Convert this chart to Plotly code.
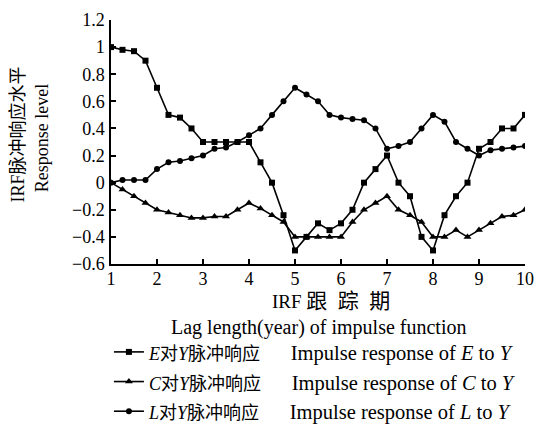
import plotly.graph_objects as go

# Lag periods (quarter steps from 1 to 10)
lag = [1 + 0.25 * i for i in range(37)]

e_resp = [1.0, 0.98, 0.97, 0.90, 0.70, 0.50, 0.48, 0.40, 0.30, 0.30, 0.30, 0.30, 0.30,
          0.15, 0.0, -0.24, -0.50, -0.40, -0.30, -0.35, -0.30, -0.20, 0.0, 0.10, 0.20,
          0.0, -0.10, -0.40, -0.50, -0.24, -0.10, 0.0, 0.25, 0.30, 0.40, 0.40, 0.50]
c_resp = [0.0, -0.05, -0.10, -0.15, -0.20, -0.22, -0.24, -0.26, -0.26, -0.25, -0.25, -0.20, -0.15,
          -0.19, -0.24, -0.29, -0.40, -0.40, -0.40, -0.40, -0.40, -0.29, -0.20, -0.15, -0.10,
          -0.20, -0.24, -0.29, -0.40, -0.40, -0.35, -0.40, -0.35, -0.30, -0.25, -0.24, -0.20]
l_resp = [0.0, 0.02, 0.02, 0.02, 0.10, 0.15, 0.16, 0.18, 0.20, 0.25, 0.26, 0.30, 0.35,
          0.40, 0.50, 0.60, 0.70, 0.65, 0.60, 0.50, 0.48, 0.47, 0.46, 0.40, 0.25,
          0.27, 0.30, 0.40, 0.50, 0.45, 0.30, 0.25, 0.20, 0.24, 0.25, 0.26, 0.27]

NB = "\u00a0"
series_cn = ["<i>E</i>对<i>Y</i>脉冲响应", "<i>C</i>对<i>Y</i>脉冲响应", "<i>L</i>对<i>Y</i>脉冲响应"]
series_en = ["Impulse response of <i>E</i> to <i>Y</i>",
             "Impulse response of <i>C</i> to <i>Y</i>",
             "Impulse response of <i>L</i> to <i>Y</i>"]
x_ticks = [1, 2, 3, 4, 5, 6, 7, 8, 9, 10]
x_tick_labels = ["1", "2", "3", "4", "5", "6", "7", "8", "9", "10"]
y_ticks = [-0.6, -0.4, -0.2, 0, 0.2, 0.4, 0.6, 0.8, 1.0, 1.2]
y_tick_labels = ["\u22120.6", "\u22120.4", "\u22120.2", "0", "0.2", "0.4", "0.6", "0.8", "1", "1.2"]

FONT = "Liberation Serif, Noto Sans CJK SC, serif"

def fnt(size):
    return dict(family=FONT, size=size, color="black")

fig = go.Figure()
symbols = ["square", "triangle-up", "circle"]
sizes = [6, 7, 6]
for i, (ys, sym, sz) in enumerate(zip([e_resp, c_resp, l_resp], symbols, sizes)):
    name = ('<span style="font-size:18px">' + series_cn[i] + "</span>" + NB * 6 + series_en[i])
    fig.add_trace(go.Scatter(
        x=lag, y=ys, mode="lines+markers", name=name,
        legendgroup=f"g{i}",
        line=dict(color="black", width=1.6),
        marker=dict(symbol=sym, size=sz, color="black"),
    ))

fig.update_layout(
    width=539, height=425,
    margin=dict(l=111, r=14, t=20, b=161, autoexpand=False),
    paper_bgcolor="white", plot_bgcolor="white",
    font=fnt(18),
    showlegend=True,
    legend=dict(x=-0.005, y=-0.279, xanchor="left", yanchor="top",
                font=fnt(20.5), bgcolor="rgba(0,0,0,0)", tracegroupgap=0, itemwidth=30),
    xaxis=dict(range=[1, 10], showline=True, linecolor="black", linewidth=1.5,
               ticks="inside", ticklen=5, tickwidth=1.5, tickcolor="black",
               tickvals=x_ticks, ticktext=x_tick_labels, showgrid=False, zeroline=False,
               ticklabelstandoff=-2, tickfont=fnt(18)),
    yaxis=dict(range=[-0.6, 1.2], showline=True, linecolor="black", linewidth=1.5,
               ticks="inside", ticklen=5, tickwidth=1.5, tickcolor="black",
               tickvals=y_ticks, ticktext=y_tick_labels, showgrid=False, zeroline=False,
               ticklabelstandoff=1, tickfont=fnt(18)),
)

x_title_cn = "IRF" + NB + '<span style="font-size:21px">' + (NB * 2).join(["跟", "踪", "期"]) + "</span>"
annotations = [
    dict(text=x_title_cn, x=(270 - 111) / 414, y=-0.15, xref="paper", yref="paper",
         xanchor="left", yanchor="middle", showarrow=False, font=fnt(19)),
    dict(text="Lag length(year) of impulse function", x=0.5, y=-0.26, xref="paper", yref="paper",
         xanchor="center", yanchor="middle", showarrow=False, font=fnt(20)),
    dict(text="IRF脉冲响应水平", x=-0.225, y=0.53, xref="paper", yref="paper",
         xanchor="center", yanchor="middle", showarrow=False, textangle=-90, font=fnt(18)),
    dict(text="Response level", x=-0.167, y=0.515, xref="paper", yref="paper",
         xanchor="center", yanchor="middle", showarrow=False, textangle=-90, font=fnt(18)),
]
fig.update_layout(annotations=annotations)

fig.write_html("out.html", config={"displayModeBar": False},
               post_script="document.body.style.margin='0px';")
